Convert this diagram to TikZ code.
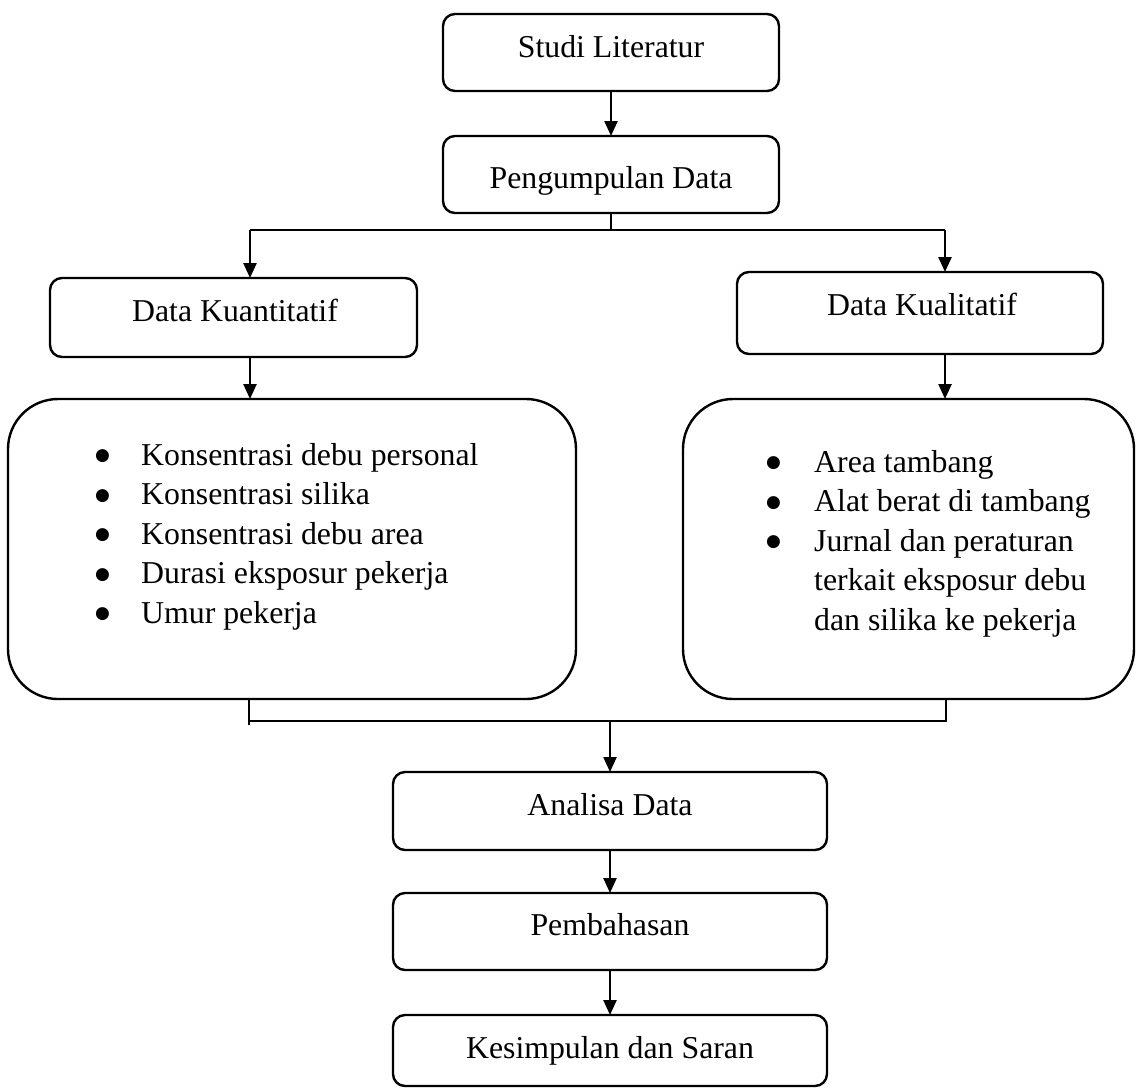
\documentclass[tikz,border=0pt]{standalone}
\usepackage{fontspec}
\setmainfont{Liberation Serif}
\newfontfamily\bulfont{DejaVu Sans}
\usetikzlibrary{arrows.meta}
\newcommand{\bigbul}{\raisebox{4.5pt}{\bulfont\fontsize{17}{17}\selectfont ●}}
\begin{document}
\begin{tikzpicture}[x=1pt,y=1pt,line width=2.4pt,
  box/.style={draw=black,rounded corners=12pt,inner sep=0pt,outer sep=0pt},
  bigbox/.style={draw=black,rounded corners=50pt,inner sep=0pt,outer sep=0pt},
  lbl/.style={inner sep=0pt,anchor=base,font=\fontsize{31.8}{39.5}\selectfont},
  lst/.style={inner sep=0pt,anchor=base west,font=\fontsize{31.8}{39.5}\selectfont},
  arr/.style={-{Triangle[length=15pt,width=13pt]}}]
\fill[white] (0,0) rectangle (1137,-1088);
\useasboundingbox (0,0) rectangle (1137,-1088);
% boxes
\node[box,minimum width=336pt,minimum height=77pt] (studi) at (611,-52.5) {};
\node[box,minimum width=336pt,minimum height=77pt] (peng) at (611,-174.5) {};
\node[box,minimum width=367pt,minimum height=79pt] (kuant) at (233.5,-317.5) {};
\node[box,minimum width=366pt,minimum height=82pt] (kual) at (920,-313) {};
\node[bigbox,minimum width=568pt,minimum height=300pt] (bigl) at (292,-549) {};
\node[bigbox,minimum width=451pt,minimum height=300pt] (bigr) at (908.5,-549) {};
\node[box,minimum width=434pt,minimum height=78pt] (analisa) at (610,-811) {};
\node[box,minimum width=434pt,minimum height=77pt] (bahas) at (610,-931.5) {};
\node[box,minimum width=434pt,minimum height=71pt] (simpul) at (610,-1050.5) {};
% texts
\node[lbl] (tstudi) at (611,-57) {Studi Literatur};
\node[lbl] (tpeng) at (611,-188) {Pengumpulan Data};
\node[lbl] (tkuant) at (235,-321) {Data Kuantitatif};
\node[lbl] (tkual) at (922,-315) {Data Kualitatif};
\node[lbl] (tanalisa) at (610,-815) {Analisa Data};
\node[lbl] (tbahas) at (610,-935) {Pembahasan};
\node[lbl] (tsimpul) at (610,-1058) {Kesimpulan dan Saran};
\node[lst] (listl) at (94,-465) {\begin{tabular}[t]{@{}p{46pt}@{}l@{}}
\bigbul&Konsentrasi debu personal\\
\bigbul&Konsentrasi silika\\
\bigbul&Konsentrasi debu area\\
\bigbul&Durasi eksposur pekerja\\
\bigbul&Umur pekerja
\end{tabular}};
\node[lst] (listr) at (765,-472) {\begin{tabular}[t]{@{}p{48pt}@{}l@{}}
\bigbul&Area tambang\\
\bigbul&Alat berat di tambang\\
\bigbul&Jurnal dan peraturan\\
&terkait eksposur debu\\
&dan silika ke pekerja
\end{tabular}};
% connectors
\coordinate (j) at (611,-230);
\coordinate (jl) at (250,-230);
\coordinate (jr) at (945,-230);
\draw[arr] (studi.south) -- (peng.north);
\draw (peng.south) -- (j);
\draw (jl) -- (jr);
\draw[arr] (jl) -- (jl |- kuant.north);
\draw[arr] (jr) -- (jr |- kual.north);
\draw[arr] (kuant.south -| jl) -- (jl |- bigl.north);
\draw[arr] (kual.south -| jr) -- (jr |- bigr.north);
\coordinate (bl) at (249,-725);
\coordinate (bm) at (610,-721);
\coordinate (br) at (946,-721);
\draw (bigl.south -| bl) -- (bl);
\draw (bl |- bm) -- (br) -- (bigr.south -| br);
\draw[arr] (bm) -- (analisa.north);
\draw[arr] (analisa.south) -- (bahas.north);
\draw[arr] (bahas.south) -- (simpul.north);
\end{tikzpicture}
\end{document}
